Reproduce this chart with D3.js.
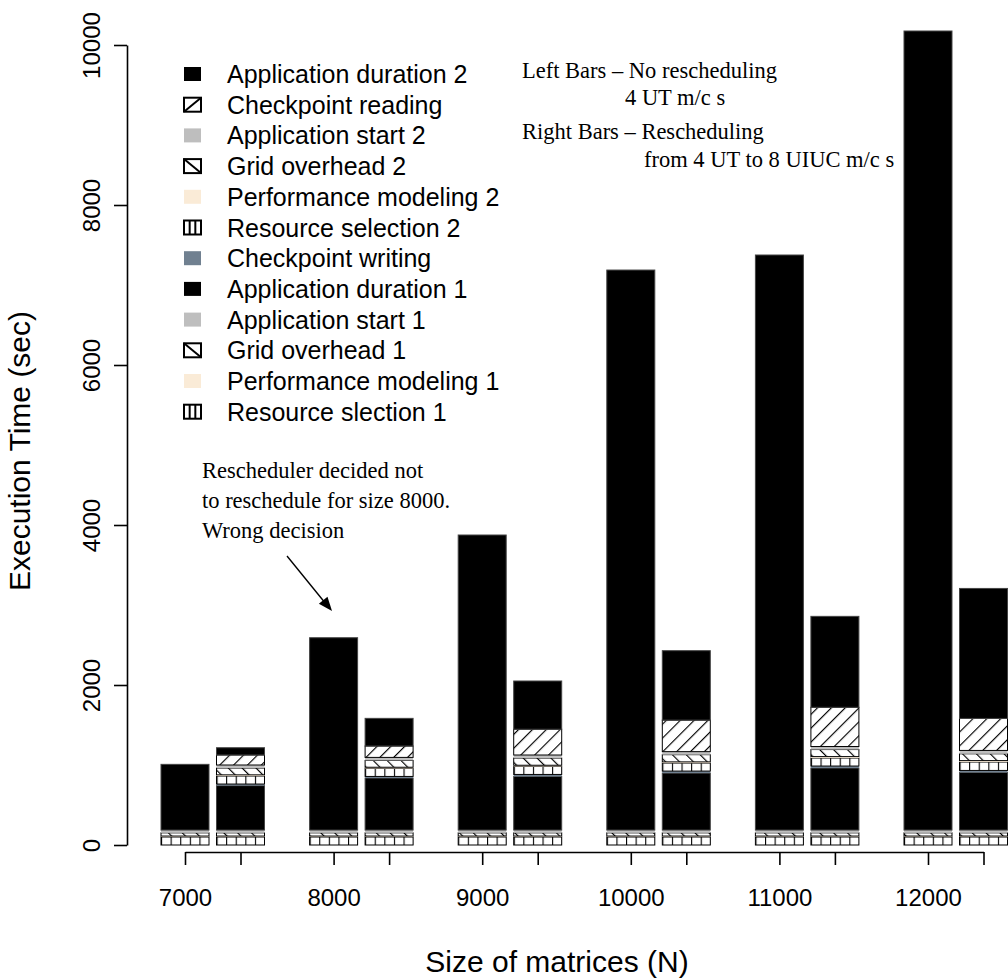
<!DOCTYPE html>
<html><head><meta charset="utf-8">
<script src="https://cdn.jsdelivr.net/npm/d3@7"></script>
<style>body{margin:0;background:#fff}svg{display:block}</style>
</head><body>
<script>
// ---- data (seconds) ----
const sizes = [7000, 8000, 9000, 10000, 11000, 12000];
const sizeLabels = ["7000", "8000", "9000", "10000", "11000", "12000"];
// common first-phase overheads (both bars)
const resourceSelection1 = [100, 100, 100, 100, 100, 100];
const perfModeling1      = [12, 12, 12, 12, 12, 12];
const gridOverhead1      = [40, 40, 40, 40, 40, 40];
const appStart1          = [35, 35, 35, 35, 35, 35];
// left bars: no rescheduling
const appDurationNoResched = [821, 2404, 3688, 7000, 7188, 9988];
// right bars: rescheduling from 4 UT to 8 UIUC
const appDuration1Resched = [555, 650, 670, 712, 775, 720];
const checkpointWriting   = [20, 20, 25, 25, 25, 25];
const resourceSelection2  = [100, 100, 100, 100, 100, 105];
const perfModeling2       = [15, 15, 15, 15, 18, 18];
const gridOverhead2       = [85, 85, 90, 90, 88, 85];
const appStart2           = [38, 38, 38, 38, 38, 42];
const checkpointReading   = [125, 142, 322, 394, 490, 400];
const appDuration2        = [91, 346, 603, 868, 1137, 1625];

const yTicks = [0, 2000, 4000, 6000, 8000, 10000];
const legendLabels = ["Application duration 2", "Checkpoint reading", "Application start 2",
  "Grid overhead 2", "Performance modeling 2", "Resource selection 2", "Checkpoint writing",
  "Application duration 1", "Application start 1", "Grid overhead 1",
  "Performance modeling 1", "Resource slection 1"];
const legendKeys = ["AD2", "CR", "AS2", "GO2", "PM2", "RS2", "CW", "AD1", "AS1", "GO1", "PM1", "RS1"];

// ---- build table ----
const keys = ["RS1", "PM1", "GO1", "AS1", "AD1", "CW", "RS2", "PM2", "GO2", "AS2", "CR", "AD2"];
const rows = [];
sizes.forEach((s, i) => {
  const base = {RS1: resourceSelection1[i], PM1: perfModeling1[i], GO1: gridOverhead1[i], AS1: appStart1[i]};
  rows.push(Object.assign({size: s, side: 0, label: sizeLabels[i]}, base,
    {AD1: appDurationNoResched[i], CW: 0, RS2: 0, PM2: 0, GO2: 0, AS2: 0, CR: 0, AD2: 0}));
  rows.push(Object.assign({size: s, side: 1, label: ""}, base,
    {AD1: appDuration1Resched[i], CW: checkpointWriting[i], RS2: resourceSelection2[i],
     PM2: perfModeling2[i], GO2: gridOverhead2[i], AS2: appStart2[i],
     CR: checkpointReading[i], AD2: appDuration2[i]}));
});
const series = d3.stack().keys(keys)(rows);

// ---- layout ----
const W = 1008, H = 979;
const sideOffset = 373.5;   // in N units
const barHalf = 161.5;      // in N units
const x = d3.scaleLinear().domain([7000, 12000 + sideOffset]).range([185, 983.5]);
const y = d3.scaleLinear().domain([0, 10000]).range([845, 45]);
const xAxisY = 852, yAxisX = 127;
const pos = d => d.size + d.side * sideOffset;

const svg = d3.select("body").append("svg").attr("width", W).attr("height", H);
const defs = svg.append("defs");

function hatch(id, angle, spacing) {
  const p = defs.append("pattern").attr("id", id).attr("patternUnits", "userSpaceOnUse")
    .attr("width", spacing).attr("height", spacing)
    .attr("patternTransform", `rotate(${angle})`);
  p.append("rect").attr("width", spacing).attr("height", spacing).attr("fill", "#fff");
  p.append("line").attr("x1", 0).attr("y1", -1).attr("x2", 0).attr("y2", spacing + 1)
    .attr("stroke", "#000").attr("stroke-width", 2.3);
}
hatch("pCR", 45, 9.8);
hatch("pGO", -45, 9.8);
// resource selection: vertical lines, 5 cells per bar
const prs = defs.append("pattern").attr("id", "pRS").attr("patternUnits", "objectBoundingBox")
  .attr("width", 0.2).attr("height", 1);
prs.append("rect").attr("width", 20).attr("height", 400).attr("fill", "#fff");
prs.append("line").attr("x1", 0).attr("y1", 0).attr("x2", 0).attr("y2", 400)
  .attr("stroke", "#000").attr("stroke-width", 2.2);

const style = {
  RS1: {fill: "url(#pRS)", stroke: "#000"}, RS2: {fill: "url(#pRS)", stroke: "#000"},
  PM1: {fill: "#FAEBD7", stroke: "none"}, PM2: {fill: "#FAEBD7", stroke: "none"},
  GO1: {fill: "url(#pGO)", stroke: "#000"}, GO2: {fill: "url(#pGO)", stroke: "#000"},
  AS1: {fill: "#BEBEBE", stroke: "none"}, AS2: {fill: "#BEBEBE", stroke: "none"},
  AD1: {fill: "#000", stroke: "#444"}, AD2: {fill: "#000", stroke: "#444"},
  CW: {fill: "#708090", stroke: "none"},
  CR: {fill: "url(#pCR)", stroke: "#000"}
};

// ---- bars ----
const g = svg.append("g");
series.forEach(s => {
  g.append("g").selectAll("rect").data(s.filter(d => d[1] - d[0] > 0)).join("rect")
    .attr("x", d => x(pos(d.data) - barHalf))
    .attr("width", d => x(pos(d.data) + barHalf) - x(pos(d.data) - barHalf))
    .attr("y", d => y(d[1]))
    .attr("height", d => y(d[0]) - y(d[1]))
    .attr("fill", style[s.key].fill)
    .attr("stroke", style[s.key].stroke)
    .attr("stroke-width", 1);
});

// ---- axes ----
const font = "'Liberation Sans', Arial, Helvetica, sans-serif";
const yAxis = svg.append("g").attr("transform", `translate(${yAxisX},0)`)
  .call(d3.axisLeft(y).tickValues(yTicks).tickSize(13).tickSizeOuter(0).tickFormat(d3.format("d")));
yAxis.selectAll("path,line").attr("stroke", "#000").attr("stroke-width", 1.6);
yAxis.selectAll("text").attr("transform", "rotate(-90)").attr("x", 0).attr("y", -27)
  .attr("dy", 0).attr("text-anchor", "middle")
  .style("font-family", font).style("font-size", "24px").attr("fill", "#000");

const xAxis = svg.append("g").attr("transform", `translate(0,${xAxisY})`)
  .call(d3.axisBottom(x).tickValues(rows.map(pos)).tickSize(13).tickSizeOuter(0)
    .tickFormat((d, i) => rows[i].label));
xAxis.selectAll("path,line").attr("stroke", "#000").attr("stroke-width", 1.6);
xAxis.selectAll("text").attr("y", 37).style("font-family", font).style("font-size", "24px")
  .attr("fill", "#000");

svg.append("text").attr("x", 557).attr("y", 972).attr("text-anchor", "middle")
  .style("font-family", font).style("font-size", "30px").text("Size of matrices (N)");
svg.append("text").attr("transform", "translate(30,451) rotate(-90)").attr("text-anchor", "middle")
  .style("font-family", font).style("font-size", "30px").text("Execution Time (sec)");

// ---- legend ----
const lg = svg.append("g");
legendKeys.forEach((k, i) => {
  const cy = 74 + i * 30.7;
  const bx = 184, bw = 17, bh = 14, by = cy - bh / 2;
  const st = style[k];
  if (k.startsWith("RS") || k.startsWith("GO") || k === "CR") {
    lg.append("rect").attr("x", bx).attr("y", by).attr("width", bw).attr("height", bh)
      .attr("fill", "#fff").attr("stroke", "#000").attr("stroke-width", 2);
    if (k.startsWith("RS")) {
      [1, 2].forEach(j => lg.append("line").attr("x1", bx + j * bw / 3).attr("x2", bx + j * bw / 3)
        .attr("y1", by).attr("y2", by + bh).attr("stroke", "#000").attr("stroke-width", 2));
    } else if (k === "CR") {
      lg.append("line").attr("x1", bx).attr("y1", by + bh).attr("x2", bx + bw).attr("y2", by)
        .attr("stroke", "#000").attr("stroke-width", 2);
    } else {
      lg.append("line").attr("x1", bx).attr("y1", by).attr("x2", bx + bw).attr("y2", by + bh)
        .attr("stroke", "#000").attr("stroke-width", 2);
    }
  } else {
    lg.append("rect").attr("x", bx).attr("y", by).attr("width", bw).attr("height", bh)
      .attr("fill", st.fill);
  }
  lg.append("text").attr("x", 227).attr("y", cy).attr("dy", "0.36em")
    .style("font-family", font).style("font-size", "25px").text(legendLabels[i]);
});

// ---- annotations ----
const serif = "'Liberation Serif', 'Times New Roman', Times, serif";
const notes = [
  {t: "Left Bars \u2013 No rescheduling", x: 522, y: 78},
  {t: "4 UT m/c s", x: 625, y: 105},
  {t: "Right Bars \u2013 Rescheduling", x: 522, y: 139},
  {t: "from 4 UT to 8 UIUC m/c s", x: 644, y: 167},
  {t: "Rescheduler decided not", x: 202, y: 478},
  {t: "to reschedule for size 8000.", x: 202, y: 508},
  {t: "Wrong decision", x: 202, y: 538}
];
svg.append("g").selectAll("text").data(notes).join("text")
  .attr("x", d => d.x).attr("y", d => d.y)
  .style("font-family", serif).style("font-size", "22.5px").text(d => d.t);

// arrow
const ax1 = 287, ay1 = 556, ax2 = 332, ay2 = 611;
svg.append("line").attr("x1", ax1).attr("y1", ay1).attr("x2", ax2 - 6).attr("y2", ay2 - 7)
  .attr("stroke", "#000").attr("stroke-width", 1.3);
const ang = Math.atan2(ay2 - ay1, ax2 - ax1);
const hl = 15, hw = 0.38;
svg.append("path").attr("d", `M${ax2},${ay2}L${ax2 - hl * Math.cos(ang - hw)},${ay2 - hl * Math.sin(ang - hw)}L${ax2 - hl * Math.cos(ang + hw)},${ay2 - hl * Math.sin(ang + hw)}Z`)
  .attr("fill", "#000");
</script>
</body></html>
